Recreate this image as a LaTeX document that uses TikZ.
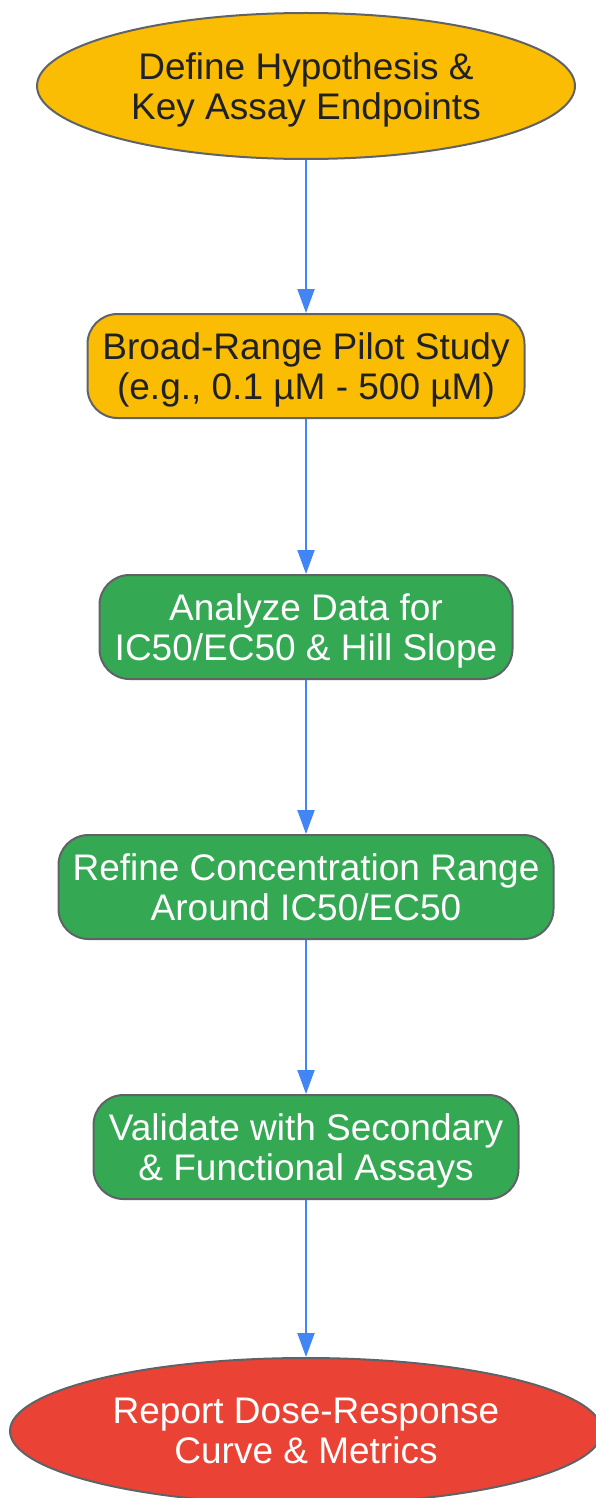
\documentclass[tikz,border=0pt]{standalone}
\usepackage{fontspec}
\setmainfont{Liberation Sans}
\usetikzlibrary{shapes.geometric,positioning,arrows.meta}
\definecolor{ylw}{HTML}{FBBC04}
\definecolor{grn}{HTML}{34A853}
\definecolor{rd}{HTML}{EA4335}
\definecolor{edge}{HTML}{5F6368}
\definecolor{ink}{HTML}{202124}
\definecolor{arr}{HTML}{4285F4}
\tikzset{
    EL1/.style ={ellipse, minimum width = 538pt, minimum height = 146pt, draw=edge, line width=2pt, fill=ylw, text=ink},
    EL2/.style ={ellipse, minimum width = 592pt, minimum height = 146pt, draw=edge, line width=2pt, fill=rd, text=white},
    RR1/.style ={rectangle, rounded corners=30pt, minimum height = 104pt, draw=edge, line width=2pt, fill=ylw, text=ink},
    RR2/.style ={rectangle, rounded corners=30pt, minimum height = 104pt, draw=edge, line width=2pt, fill=grn, text=white}
}
\tikzset{
    flow/.style ={
    -{Triangle[width=17pt,length=24pt]},
    line width=2pt,
    draw=arr
    }
}

\begin{document}
\begin{tikzpicture}
        [x=1pt,y=-1pt,node distance=155pt,
        every node/.append style={align=center,inner sep=0pt,text depth=0pt,font=\fontsize{37}{40}\selectfont}]
        \useasboundingbox (0,0) rectangle (596,1498);
        \node[EL1] (hyp) at (306,86) {Define Hypothesis \&\\Key Assay Endpoints};
        \node[RR1, minimum width=437pt, below=153pt of hyp] (pilot) {Broad-Range Pilot Study\\(e.g., 0.1 µM - 500 µM)};
        \node[RR2, minimum width=413pt, below=of pilot] (analyze) {Analyze Data for\\IC50/EC50 \& Hill Slope};
        \node[RR2, minimum width=495pt, below=154pt of analyze] (refine) {Refine Concentration Range\\Around IC50/EC50};
        \node[RR2, minimum width=425pt, below=154pt of refine] (valid) {Validate with Secondary\\\& Functional Assays};
        \node[EL2, below=157pt of valid] (report) {Report Dose-Response\\Curve \& Metrics};
        \draw[flow] (hyp) -- (pilot);
        \draw[flow] (pilot) -- (analyze);
        \draw[flow] (analyze) -- (refine);
        \draw[flow] (refine) -- (valid);
        \draw[flow] (valid) -- (report);
\end{tikzpicture}
\end{document}
